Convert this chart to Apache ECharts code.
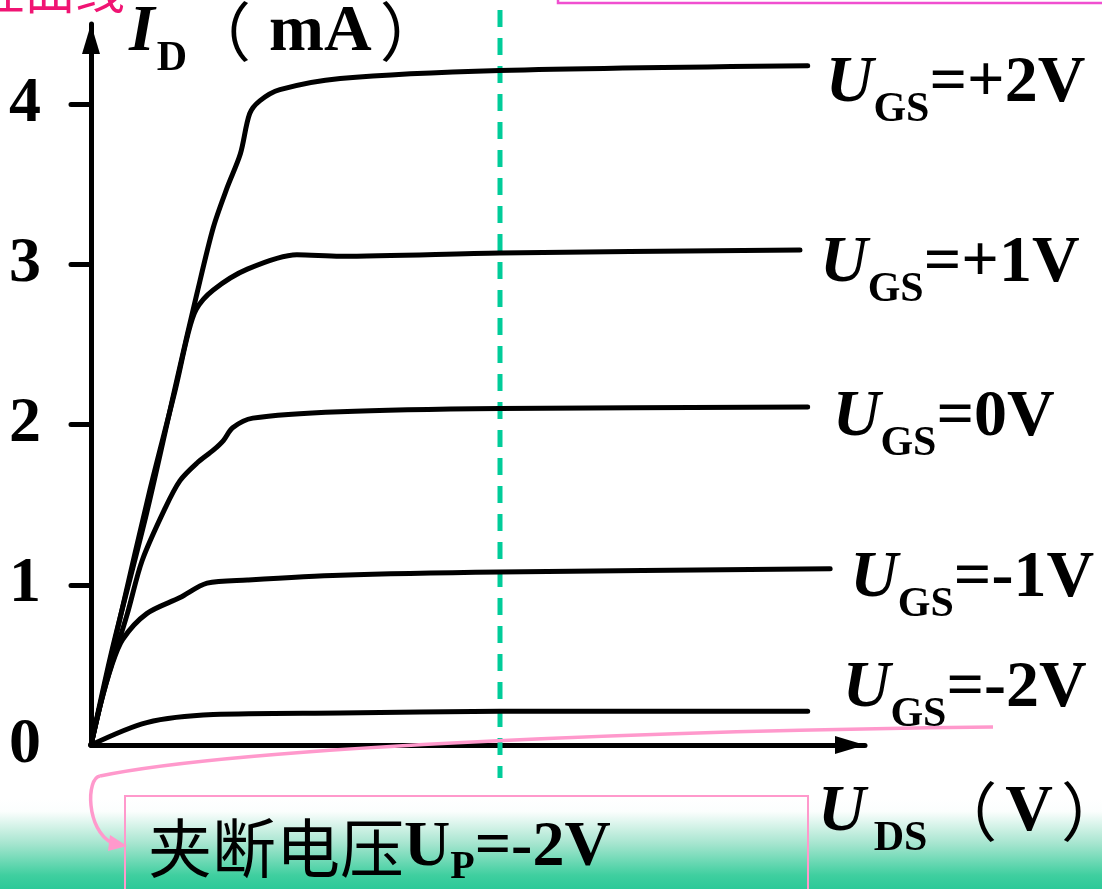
<!DOCTYPE html>
<html>
<head>
<meta charset="utf-8">
<script src="https://cdn.jsdelivr.net/npm/echarts@6/dist/echarts.min.js"></script>
<style>
  html, body { margin: 0; padding: 0; background: #ffffff; }
  #chart { width: 1102px; height: 889px; }
</style>
</head>
<body>
<div id="chart"></div>
<script>
// ---- data (U_DS in arbitrary units, I_D in mA) ----
const yTickValues = [0, 1, 2, 3, 4];
const curveNames = ['+2V', '+1V', '0V', '-1V', '-2V'];
const ugsP2 = [[0,0],[0.28,0.61],[0.72,1.45],[1.11,2.28],[1.37,2.82],[1.58,3.23],[1.76,3.48],[1.93,3.69],[2.05,3.94],[2.18,4.02],[2.44,4.09],[3.22,4.16],[5.28,4.21],[9.26,4.24]];
const ugsP1 = [[0,0],[0.37,0.78],[0.76,1.59],[1.09,2.22],[1.25,2.56],[1.36,2.72],[1.58,2.84],[2.02,2.97],[2.66,3.06],[3.22,3.05],[5.28,3.07],[9.16,3.09]];
const ugs0  = [[0,0],[0.18,0.36],[0.47,0.82],[0.66,1.15],[0.96,1.48],[1.15,1.65],[1.37,1.76],[1.58,1.84],[1.71,1.90],[1.83,1.98],[2.09,2.04],[3.22,2.08],[5.28,2.10],[9.26,2.11]];
const ugsM1 = [[0,0],[0.12,0.25],[0.27,0.50],[0.41,0.66],[0.72,0.82],[1.15,0.92],[1.50,1.01],[2.02,1.03],[3.22,1.06],[5.28,1.08],[9.55,1.10]];
const ugsM2 = [[0,0],[0.72,0.14],[1.58,0.19],[3.22,0.20],[5.28,0.21],[9.26,0.21]];
const curveData = [ugsP2, ugsP1, ugs0, ugsM1, ugsM2];

// ---- styling ----
const SERIF = 'Liberation Serif, Times New Roman, serif';
const CJK = 'Noto Sans CJK SC';
const FS = 66, SUB = 42;
function tok(extra) {
  return Object.assign({ fontFamily: SERIF, fontWeight: 'bold', fontSize: FS, lineHeight: FS, verticalAlign: 'top', color: '#000' }, extra || {});
}
const labelRich = {
  u: tok({ fontStyle: 'italic' }),
  s: tok({ fontSize: SUB, lineHeight: SUB, padding: [38, 0, 0, 0] }),
  m: tok(),
  c: tok({ fontFamily: CJK, fontWeight: 'normal', fontSize: 64, lineHeight: 64 })
};
const labelDistance = [18, 20, 25, 20, 35];
const labelDy = [18, 14, 11, 10, -22];

const chart = echarts.init(document.getElementById('chart'), null, { renderer: 'canvas' });

const series = curveNames.map((name, i) => ({
  name: name,
  type: 'line',
  data: curveData[i],
  showSymbol: false,
  smooth: 0.3,
  lineStyle: { color: '#000', width: 5, cap: 'round', join: 'round' },
  z: 5,
  endLabel: {
    show: true,
    distance: labelDistance[i],
    offset: [0, labelDy[i]],
    formatter: '{u|U}{s|GS}{m|=' + name + '}',
    rich: labelRich
  }
}));

const option = {
  animation: false,
  backgroundColor: '#ffffff',
  grid: { left: 91, right: 237, top: 24, bottom: 144, containLabel: false, outerBoundsMode: 'none' },
  xAxis: {
    type: 'value', min: 0, max: 10,
    axisLine: { show: true, onZero: false, symbol: ['none', 'triangle'], symbolSize: [18, 30], symbolOffset: [0, -15],
      lineStyle: { color: '#000', width: 5 } },
    axisTick: { show: false },
    axisLabel: { show: false },
    splitLine: { show: false },
    name: '{u|U}{sd|DS}{po|（}{m|V}{pc|）}',
    nameLocation: 'end',
    nameGap: -47,
    nameTextStyle: {
      align: 'left', verticalAlign: 'top', padding: [35, 0, 0, 0],
      rich: Object.assign({}, labelRich, {
        sd: tok({ fontSize: SUB, lineHeight: SUB, padding: [38, 0, 0, 8] }),
        po: tok({ fontFamily: CJK, fontWeight: 'normal', fontSize: 64, lineHeight: 64, padding: [0, 8, 0, 6] }),
        pc: tok({ fontFamily: CJK, fontWeight: 'normal', fontSize: 64, lineHeight: 64, padding: [0, 0, 0, 8] })
      })
    }
  },
  yAxis: {
    type: 'value', min: 0, max: 4.5, interval: 1,
    axisLine: { show: true, onZero: false, symbol: ['none', 'triangle'], symbolSize: [18, 30], symbolOffset: [0, -15],
      lineStyle: { color: '#000', width: 5 } },
    axisTick: { show: true, inside: false, length: 20, customValues: [1, 2, 3, 4],
      lineStyle: { color: '#000', width: 5, cap: 'round' } },
    axisLabel: {
      show: true, customValues: yTickValues, margin: 50,
      fontFamily: SERIF, fontWeight: 'bold', fontSize: 64, color: '#000',
      formatter: v => (Number.isInteger(v) ? String(v) : '')
    },
    splitLine: { show: false },
    name: '{u|I}{s|D}{po|（}{m|mA}{pc|）}',
    nameLocation: 'end',
    nameGap: 24,
    nameTextStyle: {
      align: 'left', verticalAlign: 'top', padding: [0, 0, 0, 38],
      rich: Object.assign({}, labelRich, {
        s: tok({ fontSize: SUB, lineHeight: SUB, padding: [38, 0, 0, 2] }),
        po: tok({ fontFamily: CJK, fontWeight: 'normal', fontSize: 64, lineHeight: 64, padding: [0, 18, 0, 0] }),
        pc: tok({ fontFamily: CJK, fontWeight: 'normal', fontSize: 64, lineHeight: 64, padding: [0, 0, 0, 8] })
      })
    }
  },
  series: series,
  graphic: [
    // bottom slide gradient band
    { type: 'rect', z: -10, silent: true,
      shape: { x: 0, y: 798, width: 1102, height: 91 },
      style: { fill: new echarts.graphic.LinearGradient(0, 0, 0, 1, [
        { offset: 0, color: '#ffffff' },
        { offset: 0.15, color: '#fbfefd' },
        { offset: 0.5, color: '#a6e5cf' },
        { offset: 0.85, color: '#3fcf9f' },
        { offset: 1, color: '#2cc998' }
      ]) } },
    // top-left partial pink title
    { type: 'text', z: 10, x: 125, y: -10,
      style: { text: '特性曲线', fill: '#F01473', font: '50px "Noto Sans CJK SC"', align: 'right', verticalAlign: 'middle' } },
    // top-right pink frame
    { type: 'rect', z: 10, shape: { x: 558, y: -60, width: 600, height: 63 },
      style: { fill: 'none', stroke: '#F04FD0', lineWidth: 2.5 } },
    // dashed green reference line
    { type: 'line', z: 3, shape: { x1: 500, y1: 10, x2: 500, y2: 778 },
      style: { stroke: '#00CC99', lineWidth: 5, lineDash: [17, 11] } },
    // pink callout curve
    { type: 'bezierCurve', z: 4,
      shape: { x1: 993, y1: 727, cpx1: 700, cpy1: 730, cpx2: 250, cpy2: 745, x2: 100, y2: 776 },
      style: { stroke: '#FF99CC', lineWidth: 3.5, fill: 'none' } },
    { type: 'bezierCurve', z: 4,
      shape: { x1: 100, y1: 776, cpx1: 86, cpy1: 778, cpx2: 86, cpy2: 830, x2: 112, y2: 843 },
      style: { stroke: '#FF99CC', lineWidth: 3.5, fill: 'none' } },
    { type: 'polygon', z: 4,
      shape: { points: [[127, 846], [110, 835], [108, 851]] },
      style: { fill: '#FF99CC' } },
    // pink annotation box
    { type: 'rect', z: 4, shape: { x: 125, y: 796, width: 683, height: 120 },
      style: { fill: 'none', stroke: '#FF99CC', lineWidth: 2 } },
    { type: 'text', z: 6, x: 148, y: 848,
      style: {
        text: '{c|夹断电压}{m|U}{sp|P}{m|=-2V}',
        verticalAlign: 'middle', align: 'left',
        rich: Object.assign({}, labelRich, {
          m: tok({ fontSize: 64, lineHeight: 64 }),
          sp: tok({ fontSize: 40, lineHeight: 40, padding: [32, 0, 0, 0] })
        })
      } }
  ]
};
chart.setOption(option);
</script>
</body>
</html>
